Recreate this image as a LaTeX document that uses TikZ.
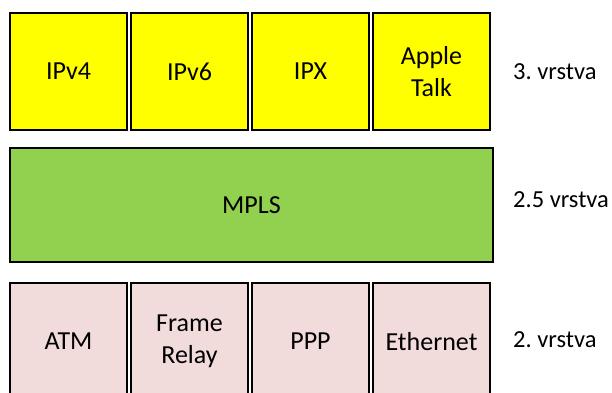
\documentclass[tikz,border=0pt]{standalone}
\usepackage{fontspec}
\setmainfont{Carlito}
\frenchspacing
\definecolor{l3}{HTML}{FFFF00}
\definecolor{l25}{HTML}{92D050}
\definecolor{l2}{HTML}{F2DCDB}
\begin{document}
\begin{tikzpicture}[x=1pt,y=-1pt,
  box/.style={draw=black,line width=1.4pt,minimum width=117pt,minimum height=117pt,inner sep=0pt,align=center,font=\fontsize{26}{32}\selectfont},
  lay/.style={anchor=west,inner sep=0pt,font=\fontsize{24.5}{30}\selectfont}]
\useasboundingbox (0,0) rectangle (612,392);
\clip (0,0) rectangle (612,392);
\node[box,fill=l3] (ipv4) at (68.5,71.5) {IPv4};
\node[box,fill=l3] (ipv6) at (189.5,71.5) {IPv6};
\node[box,fill=l3] (ipx) at (310.5,71.5) {IPX};
\node[box,fill=l3] (apple) at (431.5,71.5) {Apple\\Talk};
\node[lay] (v3) at (513,72) {3. vrstva};
\node[box,fill=l25,minimum width=483pt,minimum height=114pt] (mpls) at (251.5,205) {MPLS};
\node[lay] (v25) at (513,200) {2.5 vrstva};
\node[box,fill=l2] (atm) at (68.5,341.5) {ATM};
\node[box,fill=l2] (fr) at (189.5,341.5) {Frame\\Relay};
\node[box,fill=l2] (ppp) at (310.5,341.5) {PPP};
\node[box,fill=l2] (eth) at (431.5,341.5) {Ethernet};
\node[lay] (v2) at (513,340) {2. vrstva};
\end{tikzpicture}
\end{document}
